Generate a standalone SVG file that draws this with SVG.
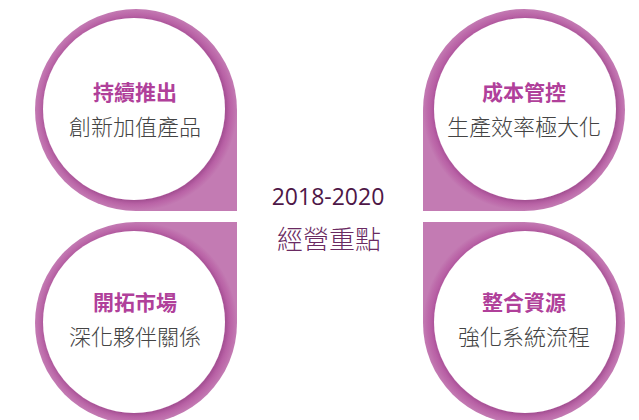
<svg xmlns="http://www.w3.org/2000/svg" width="639" height="420" viewBox="0 0 639 420">
<defs>
<radialGradient id="ring" cx="0.5" cy="0.5" r="0.5">
<stop offset="0" stop-color="#b65aa3"/>
<stop offset="0.9" stop-color="#b65aa3"/>
<stop offset="0.95" stop-color="#bc68a9"/>
<stop offset="1" stop-color="#c37bb3"/>
</radialGradient>
<filter id="sh" x="-20%" y="-20%" width="140%" height="140%">
<feGaussianBlur in="SourceAlpha" stdDeviation="2.5"/>
<feOffset dx="1" dy="1"/>
<feComponentTransfer><feFuncA type="linear" slope="0.18"/></feComponentTransfer>
<feMerge><feMergeNode/><feMergeNode in="SourceGraphic"/></feMerge>
</filter>
</defs>
<style>
.drop{fill:url(#ring)}
.inner{fill:#ffffff;filter:url(#sh)}
.t{font-family:"Noto Sans CJK TC","Noto Sans CJK SC",sans-serif;font-size:21px;font-weight:bold;fill:#b0409a;text-anchor:middle}
.s{font-family:"Noto Sans CJK TC","Noto Sans CJK SC",sans-serif;font-size:22px;font-weight:300;fill:#444444;text-anchor:middle}
.yr{font-family:"Open Sans","Noto Sans",sans-serif;font-size:23px;fill:#4e1747;text-anchor:middle}
.ct{font-family:"Noto Sans CJK TC","Noto Sans CJK SC",sans-serif;font-size:26px;font-weight:300;fill:#6a2a62;text-anchor:middle}
</style>
<rect width="639" height="420" fill="#ffffff"/>
<g id="node-tl">
<path class="drop" d="M237 110 L237 211 L136 211 A101 101 0 1 1 237 110 Z"/>
<circle class="inner" cx="134" cy="109" r="91"/>
<text class="t" x="135" y="100">持續推出</text>
<text class="s" x="135" y="135">創新加值產品</text>
</g>
<g id="node-tr">
<path class="drop" d="M423 110 L423 211 L524 211 A101 101 0 1 0 423 110 Z"/>
<circle class="inner" cx="525" cy="109" r="91"/>
<text class="t" x="524" y="100">成本管控</text>
<text class="s" x="524" y="135">生產效率極大化</text>
</g>
<g id="node-bl">
<path class="drop" d="M136 222 L237 222 L237 323 A101 101 0 1 1 136 222 Z"/>
<circle class="inner" cx="134" cy="322" r="91"/>
<text class="t" x="135" y="310">開拓市場</text>
<text class="s" x="135" y="345">深化夥伴關係</text>
</g>
<g id="node-br">
<path class="drop" d="M524 222 L423 222 L423 323 A101 101 0 1 0 524 222 Z"/>
<circle class="inner" cx="525" cy="322" r="91"/>
<text class="t" x="524" y="310">整合資源</text>
<text class="s" x="524" y="345">強化系統流程</text>
</g>
<g id="center">
<text class="yr" x="328" y="205">2018-2020</text>
<text class="ct" x="329" y="249">經營重點</text>
</g>
<g id="connectors"></g>
</svg>
